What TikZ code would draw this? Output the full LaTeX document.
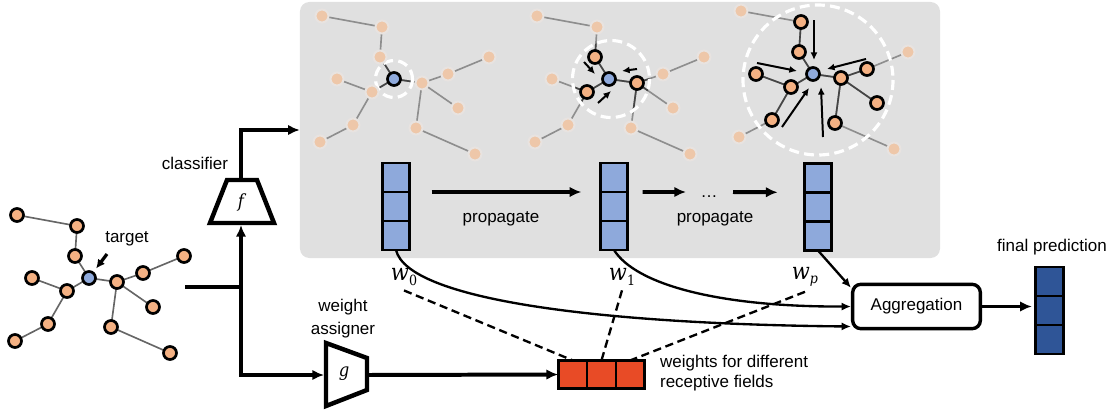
\documentclass[tikz,border=0pt]{standalone}
\usepackage{fontspec}
\setmainfont{Liberation Sans}
\newfontfamily\symfont{DejaVu Serif Condensed}
\usetikzlibrary{arrows.meta,calc}
\pgfdeclarelayer{bg}
\pgfdeclarelayer{edges}
\pgfsetlayers{bg,edges,main}

\definecolor{panelgray}{HTML}{E0E0E0}
\definecolor{nodeorange}{HTML}{F4B183}
\definecolor{nodeblue}{HTML}{8FAADC}
\definecolor{fadeorange}{HTML}{EEC7A9}
\definecolor{fadehalo}{HTML}{E8E3E0}
\definecolor{edgegray}{HTML}{8E8E8E}
\definecolor{edgedark}{HTML}{454545}
\definecolor{leftedge}{HTML}{666666}
\definecolor{vecblue}{HTML}{8EA9DB}
\definecolor{darkblue}{HTML}{2F5597}
\definecolor{weightred}{HTML}{E84B26}

% italic symbols and subscripted weights
\newcommand\symit[1]{{\symfont\itshape #1}}
\newcommand\wsub[2]{\symit{#1}\raisebox{-4pt}{\fontsize{12}{14}\symfont #2}}

% node offsets of the sample graph around its target node (x right, y down)
\newcommand\graphpos{1/-72/-63,2/-12/-52,3/-14/-22,4/0/0,5/-57/0,6/-22/13,7/-41/46,8/-74/63,9/28/4,10/54/-5,11/95/-22,12/64/29,13/22/49,14/81/75}
\newcommand\graphedges{1/2,2/3,3/4,4/6,6/5,6/7,7/8,4/9,9/10,10/11,9/12,9/13,13/14}

% place the vertices of one copy of the graph: prefix, centre x, centre y
\newcommand\placegraph[3]{%
  \foreach \i/\dx/\dy in \graphpos {
    \pgfmathsetmacro\px{#2+\dx}
    \pgfmathsetmacro\py{#3+\dy}
    \node[#1 node/.try, #1 n\i/.try] (#1-\i) at (\px,\py) {};
  }%
}
% draw a list of edges of one copy: prefix, edge list, style
\newcommand\drawedges[3]{%
  \edef\edgelist{#2}%
  \foreach \a/\b in \edgelist { \draw[#3] (#1-\a.center) -- (#1-\b.center); }%
}
% a column of three cells: name, centre x, top y, pitch, style
\newcommand\cellcol[5]{%
  \foreach \k in {1,2,3} {
    \pgfmathsetmacro\cy{#3+(\k-0.5)*#4}
    \node[#5] (#1-\k) at (#2,\cy) {};
  }%
}

\begin{document}
\begin{tikzpicture}[x=0.03cm, y=-0.03cm,
  font=\fontsize{14.5}{17}\selectfont,
  vtx/.style={circle, draw=black, line width=2.3pt, fill=nodeorange, minimum size=0.39cm, inner sep=0pt},
  tvtx/.style={vtx, fill=nodeblue},
  fvtx/.style={circle, draw=fadehalo, line width=1.7pt, fill=fadeorange, minimum size=0.39cm, inner sep=0pt},
  L node/.style={vtx}, L n4/.style={tvtx},
  g1 node/.style={fvtx}, g1 n4/.style={tvtx},
  g2 node/.style={fvtx}, g2 n4/.style={tvtx}, g2 n3/.style={vtx}, g2 n6/.style={vtx}, g2 n9/.style={vtx},
  g3 node/.style={vtx}, g3 n4/.style={tvtx}, g3 n1/.style={fvtx}, g3 n8/.style={fvtx},
  g3 n11/.style={fvtx}, g3 n14/.style={fvtx},
  grayedge/.style={draw=edgegray, line width=1.4pt},
  darkedge/.style={draw=edgedark, line width=1.4pt},
  wcirc/.style={draw=white, line width=2.7pt, dash pattern=on 8.5pt off 4.5pt},
  smallarr/.style={line width=1.7pt, -{Latex[length=6.5pt,width=6pt]}},
  wire/.style={line width=3.4pt},
  thickarr/.style={line width=3.4pt, -{Latex[length=10pt,width=9pt]}},
  thinarr/.style={line width=2pt, -{Latex[length=8pt,width=7pt]}},
  dashline/.style={line width=2pt, dash pattern=on 7pt off 4pt},
  trap/.style={line width=3.8pt, line join=miter},
  cell/.style={draw=black, line width=2.4pt, inner sep=0pt, outer sep=0pt},
  bluecell/.style={cell, fill=vecblue, minimum width=0.82cm, minimum height=0.87cm},
  darkcell/.style={cell, fill=darkblue, minimum width=0.85cm, minimum height=0.87cm},
  redcell/.style={cell, fill=weightred, minimum width=0.867cm, minimum height=0.85cm},
  mlbl/.style={font=\fontsize{15.5}{18}\selectfont},
  wlbl/.style={font=\fontsize{20}{23}\selectfont, inner sep=1pt},
  aggbox/.style={draw=black, line width=2.9pt, rounded corners=7pt, minimum width=3.83cm, minimum height=1.33cm, inner sep=0pt}
]
\useasboundingbox (0,0) rectangle (1113,416);

% grey panel holding the propagation steps
\begin{pgfonlayer}{bg}
  \node[fill=panelgray, rounded corners=8pt, minimum width=19.2cm, minimum height=7.68cm, inner sep=0pt] (panel) at (620,130) {};
\end{pgfonlayer}

% ---------- input graph ----------
\placegraph{L}{89}{278}
\begin{pgfonlayer}{edges}
  \drawedges{L}{\graphedges}{draw=leftedge, line width=1.4pt}
\end{pgfonlayer}
\node (tlbl) at (127,239) {target};
\coordinate (tptr) at (107,254);
\draw[line width=2.8pt, -{Latex[length=7.5pt,width=7.5pt]}, shorten >=3.5pt] (tptr) -- (L-4);

% ---------- step 0 ----------
\placegraph{g1}{394}{79}
\begin{pgfonlayer}{edges}
  \drawedges{g1}{\graphedges}{grayedge}
  \begin{scope}
    \clip (394,79) circle[radius=18.5];
    \drawedges{g1}{\graphedges}{darkedge}
  \end{scope}
  \draw[wcirc] (394,79) circle[radius=18.5];
\end{pgfonlayer}

% ---------- step 1 ----------
\placegraph{g2}{609}{79}
\begin{pgfonlayer}{edges}
  \drawedges{g2}{\graphedges}{grayedge}
  \begin{scope}
    \clip (611,79) circle[radius=38.5];
    \drawedges{g2}{\graphedges}{darkedge}
  \end{scope}
  \draw[wcirc] (611,79) circle[radius=38.5];
\end{pgfonlayer}
\foreach \sx/\sy/\ex/\ey in {-25/-17/-14/-5, 28/-10/13/-8, -11/24/2/12}
  \draw[smallarr] ([shift={(\sx,\sy)}]g2-4.center) -- ([shift={(\ex,\ey)}]g2-4.center);

% ---------- step p ----------
\placegraph{g3}{813}{74}
\begin{pgfonlayer}{edges}
  \drawedges{g3}{\graphedges}{grayedge}
  \drawedges{g3}{2/3,3/4,4/6,6/5,6/7,4/9,9/10,9/12,9/13}{darkedge}
  \draw[wcirc] (818,80) circle[radius=75];
\end{pgfonlayer}
\foreach \sx/\sy/\ex/\ey in {1/-54/1/-14, -56/-11/-16/-3, 53/-15/14/-5, -31/53/-4/14, 10/63/8/13}
  \draw[smallarr] ([shift={(\sx,\sy)}]g3-4.center) -- ([shift={(\ex,\ey)}]g3-4.center);

% ---------- propagated feature vectors ----------
\cellcol{v0}{396}{163}{29}{bluecell}
\cellcol{v1}{614}{163}{29}{bluecell}
\cellcol{vp}{818}{163.5}{29}{bluecell}

\draw[thickarr, shorten <=0.66cm, shorten >=0.57cm] (v0-1.south east) -- (v1-1.south west);
\node (prop1) at (501,219) {propagate};
\coordinate (q2) at (686,192);
\coordinate (q3) at (733,192);
\draw[thickarr, shorten <=0.45cm] (v1-1.south east) -- (q2);
\node[anchor=base] (dots) at (709,197) {\dots};
\draw[thickarr, shorten >=0.8cm] (q3) -- (vp-1.south west);
\node (prop2) at (715,219) {propagate};

\node[wlbl] (w0) at (404,277) {\wsub{w}{0}};
\node[wlbl] (w1) at (622,277) {\wsub{w}{1}};
\node[wlbl] (wp) at (805,277) {\wsub{w}{\itshape p}};

% ---------- classifier and weight assigner ----------
\coordinate (src) at (185,287);
\coordinate (jn) at (241,287);
\coordinate (corner) at (241,375);
\coordinate (ftop) at (241,180);
\coordinate (fbot) at (241,223);
\coordinate (gin) at (326,375);
\coordinate (gout) at (367,375);

\draw[trap] (210,223) -- (274,223) -- (257,180) -- (227,180) -- cycle;
\node[mlbl] (fl) at (241,202) {\symit{f}};
\node (cls) at (195,163) {classifier};

\draw[trap] (326,343) -- (367,358) -- (367,390) -- (326,406) -- cycle;
\node[mlbl] (gl) at (344,374) {\symit{g}};
\node[align=center, font=\fontsize{14.5}{19.5}\selectfont] (wa) at (343,319) {weight\\assigner};

\draw[wire] (src) -- (jn);
\draw[wire, {Latex[length=10pt,width=9pt]}-{Latex[length=10pt,width=9pt]}, shorten <=1.7pt, shorten >=1.7pt] (fbot) -- (corner) -- (gin);
\draw[thickarr] (ftop) |- (panel.west);

% ---------- receptive-field weights ----------
\foreach \k in {1,2,3} {
  \pgfmathsetmacro\cx{572.6+(\k-1)*28.9}
  \node[redcell] (r-\k) at (\cx,374.5) {};
}
\draw[thickarr] (gout) -- (r-1.west);
\node[align=left, anchor=west] (wlab) at (656,373) {weights for different\\receptive fields};

\draw[dashline] ([yshift=-3pt]w0.south) -- (r-1.north);
\draw[dashline] ([yshift=-3pt]w1.south) -- (r-2.north);
\draw[dashline] ([yshift=-3pt]wp.south) -- (r-3.north);

% ---------- aggregation and output ----------
\node[aggbox] (agg) at (916.5,306.5) {Aggregation};
\draw[thinarr] (v0-3.south) .. controls (408,300) and (600,324) .. ($(agg.west)+(0,20)$);
\draw[thinarr] (v1-3.south) .. controls (636,285) and (720,307) .. (agg.west);
\draw[thinarr] (vp-3.south) -- (agg.164);

\cellcol{fin}{1049.5}{267}{29}{darkcell}
\node (fplbl) at (1052,247) {final prediction};
\draw[thickarr, shorten >=3pt] (agg.east) -- (agg.east -| fin-2.west);
\end{tikzpicture}
\end{document}
